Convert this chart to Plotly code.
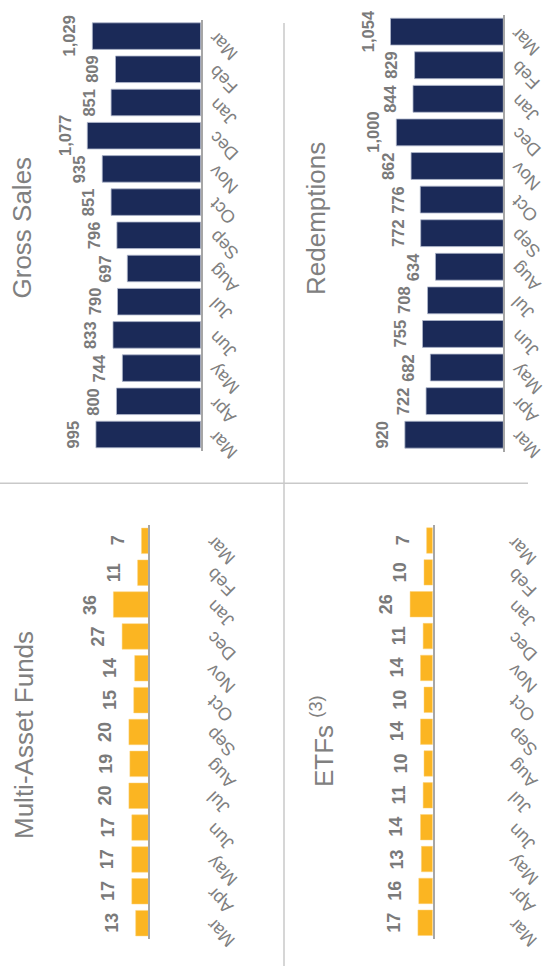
import plotly.graph_objects as go

months = ["Mar", "Apr", "May", "Jun", "Jul", "Aug", "Sep", "Oct", "Nov", "Dec", "Jan", "Feb", "Mar"]
gross_sales = [995, 800, 744, 833, 790, 697, 796, 851, 935, 1077, 851, 809, 1029]
redemptions = [920, 722, 682, 755, 708, 634, 772, 776, 862, 1000, 844, 829, 1054]
multi_asset = [13, 17, 17, 17, 20, 19, 20, 15, 14, 27, 36, 11, 7]
etfs = [17, 16, 13, 14, 11, 10, 14, 10, 14, 11, 26, 10, 7]

W, H = 545, 966
NAVY = "#1b2a58"
GOLD = "#fbb522"
GREY = "#7a7a7a"
FONT = "Liberation Sans, Arial, sans-serif"


def px(x):
    return x / W


def py(y):
    return 1 - y / H


# panel: (values, color, x-domain px (left, axis), y-domain px (top, bottom), px per unit,
#         label size, month label offset px, title, title center px)
panels = [
    (gross_sales, NAVY, (0, 200.7), (19.5, 451.1), 0.1053, 16.5, 2, "Gross Sales", (22, 227.5)),
    (redemptions, NAVY, (299.75, 503.3), (14.85, 451.5), 0.107, 16.5, 2, "Redemptions", (316, 219)),
    (multi_asset, GOLD, (0, 148.3), (524.9, 939.1), 0.97, 18, 52, "Multi-Asset Funds", (23.5, 735.5)),
    (etfs, GOLD, (290, 432.7), (524.6, 938.7), 0.87, 18, 69, "ETFs <sup>(3)</sup>", (322, 741)),
]

fig = go.Figure()
annotations = []
layout = {}
idx = list(range(len(months)))

for i, (vals, color, (xl, xr), (yt, yb), scale, lsize, moff, title, (tx, ty)) in enumerate(panels, start=1):
    xa = "x" if i == 1 else f"x{i}"
    ya = "y" if i == 1 else f"y{i}"
    line = dict(color="#b0b8cc", width=0.8) if color == NAVY else dict(color="#fdd27a", width=0.5)
    fig.add_trace(go.Bar(
        x=vals, y=idx, orientation="h", marker=dict(color=color, line=line),
        xaxis=xa, yaxis=ya, showlegend=False, hoverinfo="x",
    ))
    R = (xr - xl) / scale
    layout[f"xaxis{'' if i == 1 else i}"] = dict(
        domain=[px(xl), px(xr)], range=[R, 0], anchor=ya,
        showgrid=False, zeroline=False, showticklabels=False, showline=False, ticks="",
    )
    layout[f"yaxis{'' if i == 1 else i}"] = dict(
        domain=[py(yb), py(yt)], range=[-0.5, len(months) - 0.5], anchor=xa, side="right",
        showgrid=False, zeroline=False, showticklabels=False, ticks="",
        showline=True, linecolor="#a6a6a6", linewidth=1.5,
    )
    for k, v in enumerate(vals):
        annotations.append(dict(
            x=v, y=k, xref=xa, yref=ya, text=f"{v:,}", showarrow=False,
            textangle=-90, xanchor="right", yanchor="middle", xshift=-12,
            font=dict(family=FONT, size=lsize, color=GREY, weight="bold"),
        ))
        annotations.append(dict(
            x=0, y=k, xref=xa, yref=ya, text=months[k], showarrow=False,
            textangle=-135, xanchor="left", yanchor="top", xshift=moff, yshift=11,
            font=dict(family=FONT, size=18, color="#808080"),
        ))
    annotations.append(dict(
        x=px(tx), y=py(ty), xref="paper", yref="paper", text=title, showarrow=False,
        textangle=-90, xanchor="center", yanchor="middle",
        font=dict(family=FONT, size=26, color="#808080"),
    ))

shapes = [
    dict(type="line", xref="paper", yref="paper", x0=0, x1=px(528), y0=py(483.3), y1=py(483.3),
         line=dict(color="#c9c9c9", width=1.5)),
    dict(type="line", xref="paper", yref="paper", x0=px(284), x1=px(284), y0=py(23), y1=0,
         line=dict(color="#c9c9c9", width=1.5)),
]

fig.update_layout(
    width=W, height=H, margin=dict(l=0, r=0, t=0, b=0),
    paper_bgcolor="white", plot_bgcolor="white",
    bargap=0.2, annotations=annotations, shapes=shapes,
    font=dict(family=FONT), **layout,
)

fig.write_html(
    "out.html",
    config={"displayModeBar": False},
    post_script="document.body.style.margin='0';document.body.style.overflow='hidden';",
)
